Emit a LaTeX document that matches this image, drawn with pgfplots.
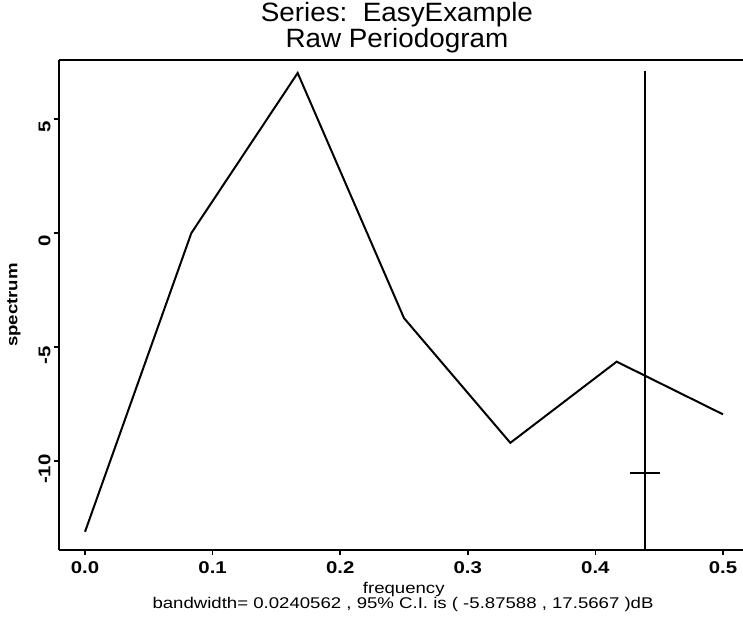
\documentclass[border=0pt]{standalone}
\usepackage{fontspec}
\setmainfont{Liberation Sans}[FakeStretch=1.2]
\newfontfamily\titlefont{Liberation Sans}[FakeStretch=1.05]
\usepackage{pgfplots}
\pgfplotsset{compat=1.18}
\begin{document}
\begin{tikzpicture}[x=1pt,y=1pt]
\useasboundingbox (0,0) rectangle (743,-620);
\begin{axis}[
  at={(59pt,-550pt)}, anchor=south west,
  scale only axis, width=684pt, height=490pt,
  xmin=-0.0204, xmax=0.5157,
  ymin=-13.9, ymax=7.59,
  axis x line=box, axis y line=left,
  axis line style={-, line width=2pt},
  xtick pos=left, ytick pos=left,
  tick align=outside, major tick length=5pt,
  tick style={line width=1.6pt, black},
  xtick={0,0.1,0.2,0.3,0.4,0.5},
  xticklabels={0.0,0.1,0.2,0.3,0.4,0.5},
  ytick={-10,-5,0,5},
  yticklabels={-10,-5,0,5},
  xticklabel style={font=\fontsize{17}{17}\selectfont\bfseries, yshift=-3pt},
  yticklabel style={font=\fontsize{17}{17}\selectfont\bfseries, rotate=90, anchor=south, xshift=-8pt},
  xlabel={frequency},
  every axis x label/.style={at={(rel axis cs:0.504,-0.0816)}, anchor=center, font=\fontsize{15.5}{15.5}\selectfont},
  ylabel={spectrum},
  every axis y label/.style={at={(rel axis cs:-0.0658,0.5)}, anchor=center, rotate=90, font=\fontsize{15.5}{15.5}\selectfont\bfseries},
  title={Series:~~EasyExample\\Raw Periodogram},
  every axis title/.style={at={(rel axis cs:0.494,1.066)}, anchor=center, align=center, font=\titlefont\fontsize{26.5}{18}\selectfont},
  clip=true, clip mode=individual,
]
\addplot[black, line width=2pt] coordinates {
  (0, -13.1) (0.083333, 0.0) (0.166667, 7.02) (0.25, -3.73)
  (0.333333, -9.2) (0.416667, -5.64) (0.5, -7.95)
};
\addplot[black, line width=1.8pt] coordinates {(0.4389, -16.4) (0.4389, 7.1)};
\addplot[black, line width=1.8pt] coordinates {(0.4269, -10.53) (0.4509, -10.53)};
\node[font=\fontsize{15.5}{15.5}\selectfont, anchor=center] at (rel axis cs:0.503,-0.112)
  {bandwidth= 0.0240562 , 95\% C.I. is ( -5.87588 , 17.5667 )dB};
\end{axis}
\end{tikzpicture}
\end{document}
